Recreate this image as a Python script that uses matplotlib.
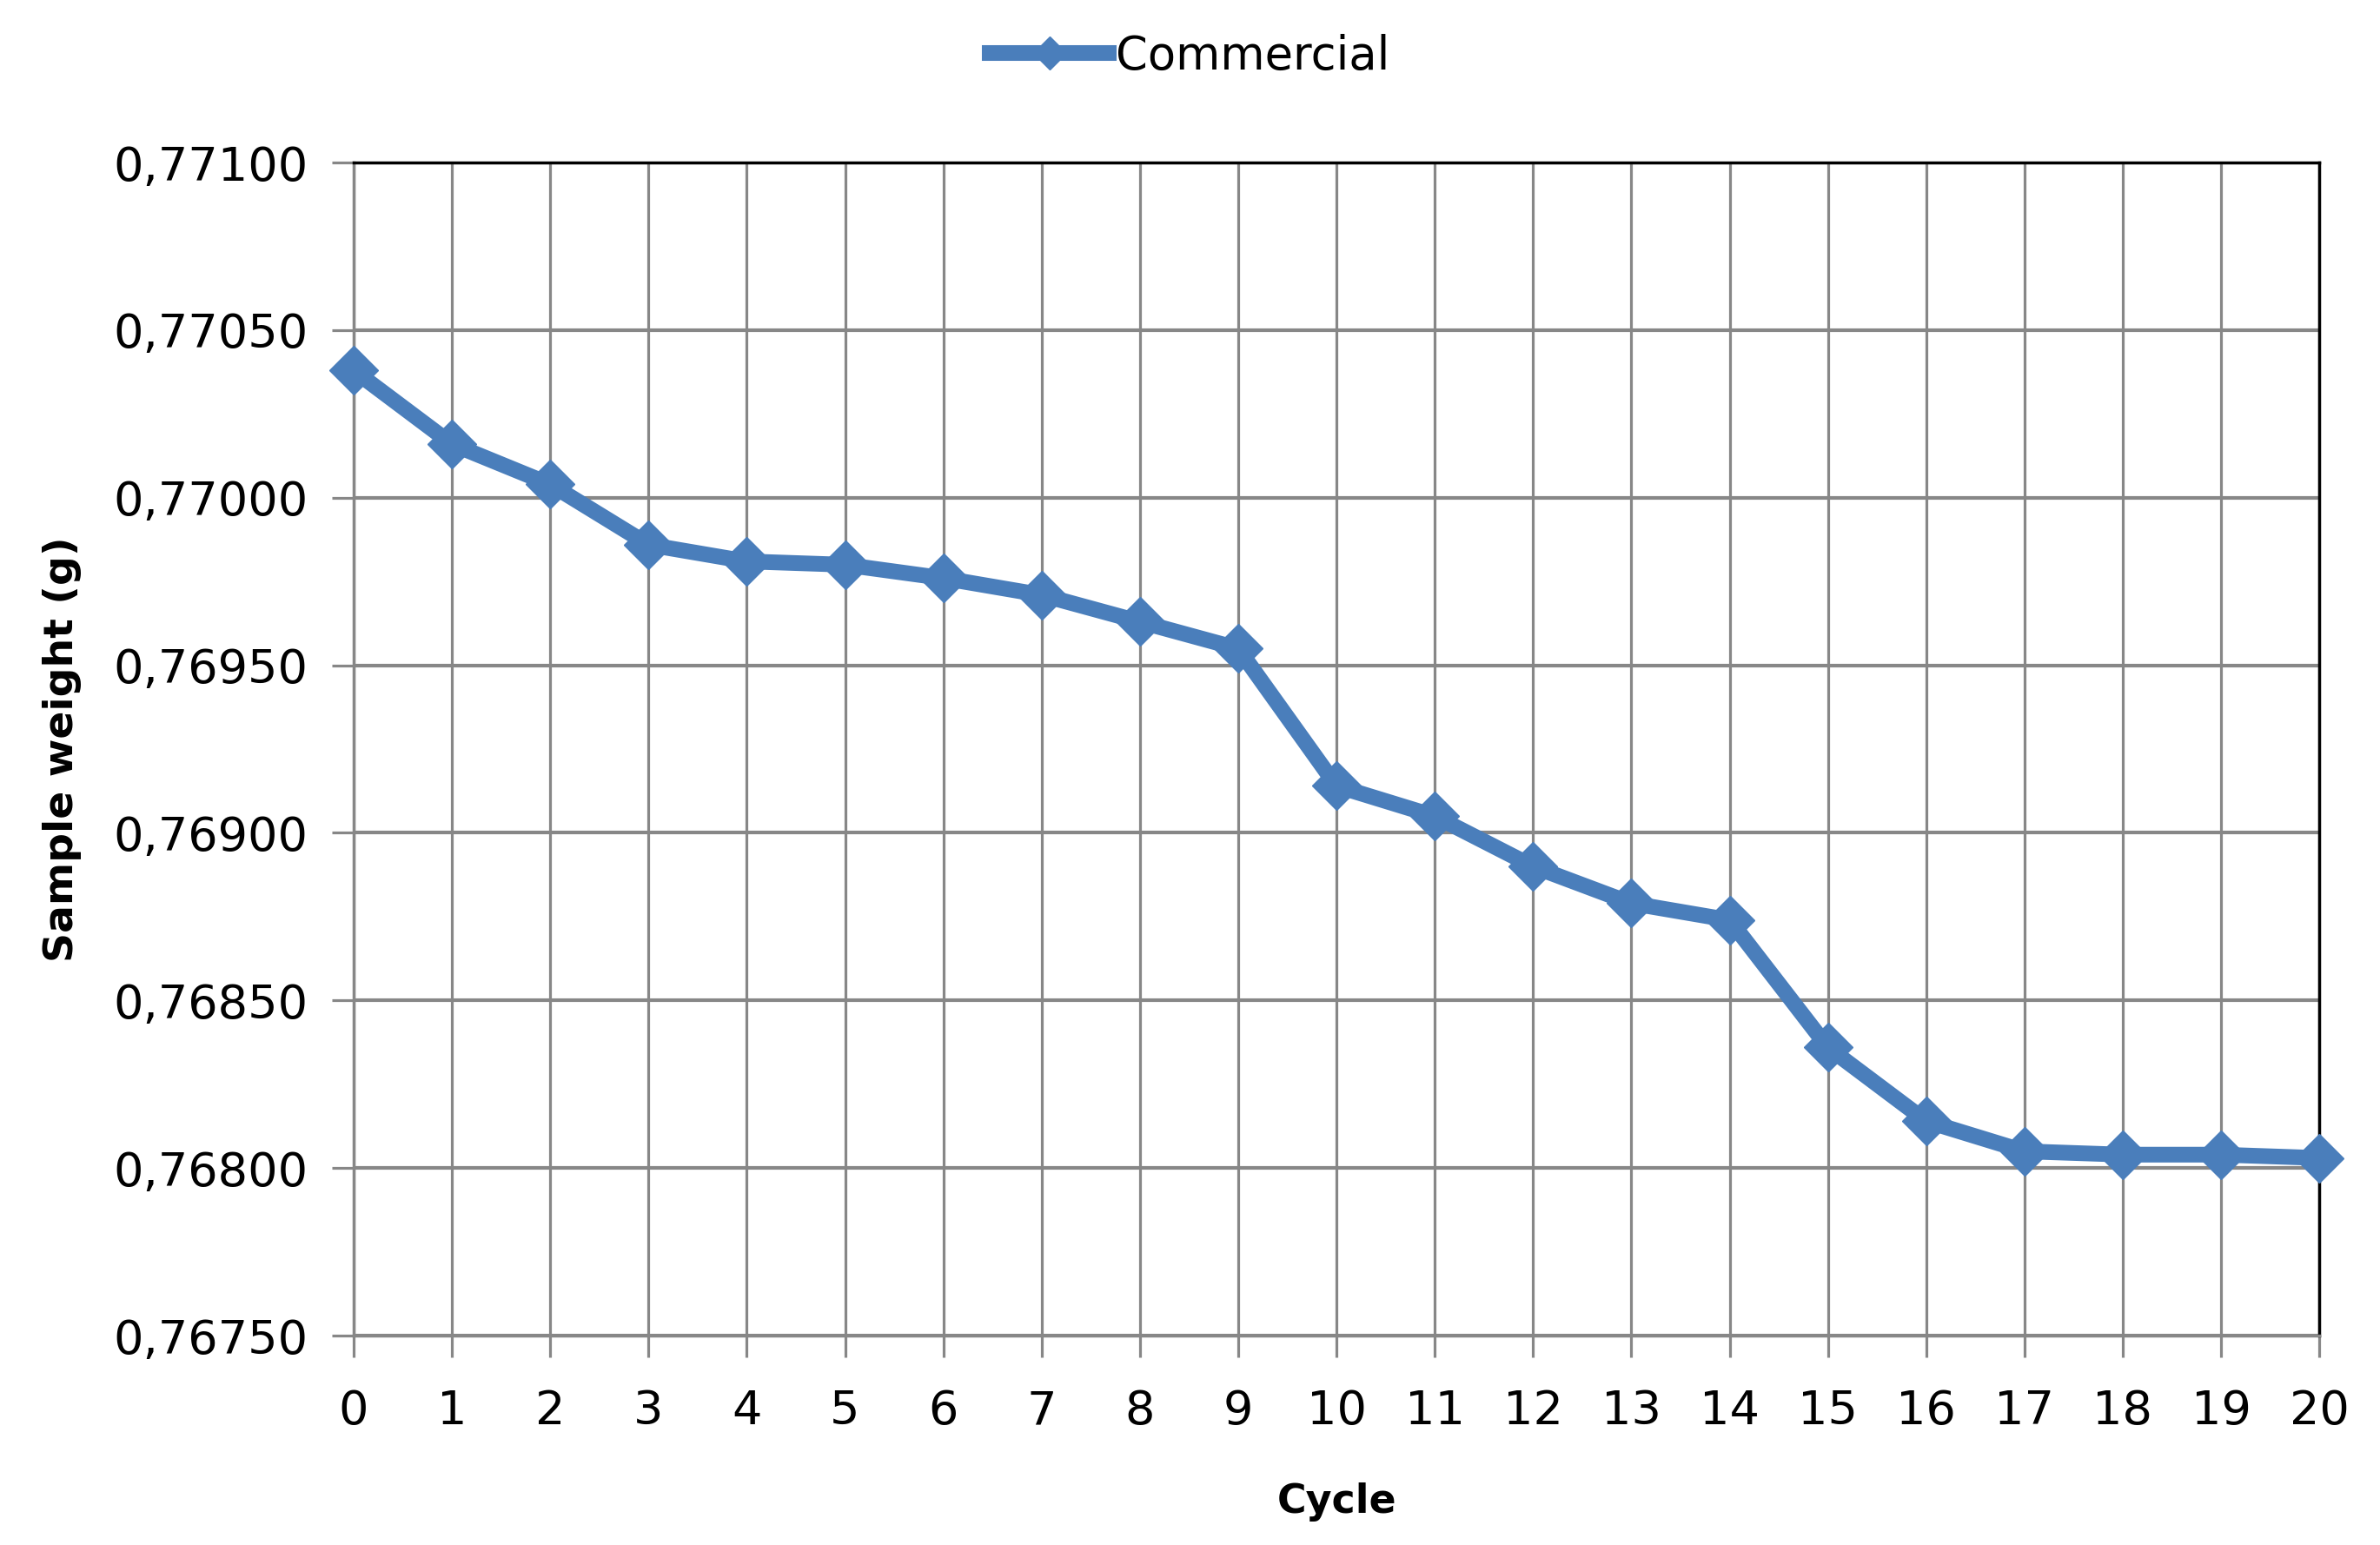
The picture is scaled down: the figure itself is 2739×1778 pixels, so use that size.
import numpy as np
import matplotlib.pyplot as plt
from matplotlib.ticker import FuncFormatter, MultipleLocator

# sample weight per cycle
cycle = list(range(21))
weight = [0.77038, 0.77016, 0.77004, 0.76986, 0.76981, 0.76980, 0.76976,
          0.76971, 0.76963, 0.76955, 0.76914, 0.76905, 0.76890, 0.76879,
          0.76874, 0.76836, 0.76814, 0.76805, 0.76804, 0.76804, 0.76803]
series_name = 'Commercial'

blue = '#4A7EBB'
grey = '#878787'

fig = plt.figure(figsize=(27.39, 17.78), dpi=100)
ax = fig.add_axes([0.1486, 0.1355, 0.8259, 0.7593])

ax.plot(cycle, weight, color=blue, lw=13, marker='D', ms=29,
        mec=blue, mfc=blue, label=series_name, zorder=3, clip_on=False)

ax.set_xlim(0, 20)
ax.set_ylim(0.7675, 0.7710)
ax.xaxis.set_major_locator(MultipleLocator(1))
ax.yaxis.set_major_locator(MultipleLocator(0.0005))
ax.yaxis.set_major_formatter(FuncFormatter(lambda v, p: f'{v:.5f}'.replace('.', ',')))

ax.grid(axis='y', color=grey, lw=3.0, zorder=0)
ax.grid(axis='x', color=grey, lw=2.3, zorder=0)
ax.set_axisbelow(True)

for s in ['left', 'bottom']:
    ax.spines[s].set_color(grey)
    ax.spines[s].set_linewidth(2.5)
for s in ['top', 'right']:
    ax.spines[s].set_color('black')
    ax.spines[s].set_linewidth(2.5)

ax.tick_params(axis='both', direction='out', color=grey, width=2.3,
               length=18, labelsize=39)
ax.tick_params(axis='x', pad=26)
ax.tick_params(axis='y', pad=20)

ax.set_xlabel('Cycle', fontsize=33, fontweight='bold', labelpad=40)
ax.set_ylabel('Sample weight (g)', fontsize=34, fontweight='bold', labelpad=26)

fig.legend(loc='upper center', bbox_to_anchor=(0.5, 1.005), frameon=False,
           fontsize=38, handlelength=2.6, markerscale=0.65, handletextpad=0.15)

fig.savefig('out.png', dpi=100)
